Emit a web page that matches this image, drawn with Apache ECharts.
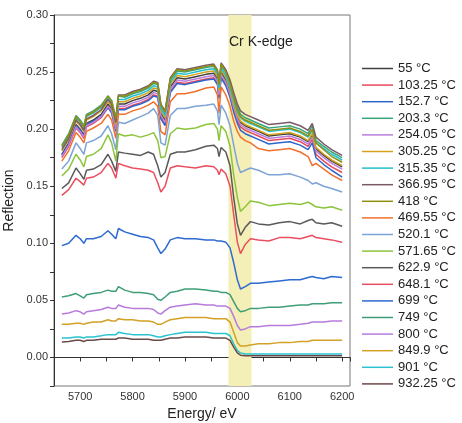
<!DOCTYPE html>
<html>
<head>
<meta charset="utf-8">
<script src="https://cdn.jsdelivr.net/npm/echarts@6/dist/echarts.min.js"></script>
<style>
html,body{margin:0;padding:0;background:#fff;}
#chart{width:462px;height:423px;}
</style>
</head>
<body>
<div id="chart"></div>
<script>
// Energy grid (eV)
const energy = [5665,5678,5692,5700,5707,5712,5725,5740,5753,5760,
5768,5773,5785,5800,5815,5830,5840,5848,5854,5862,
5872,5885,5900,5920,5940,5955,5962,5965,5969,5978,
5986,5993,6000,6006,6015,6025,6040,6060,6080,6100,
6120,6135,6143,6150,6165,6180,6200];

const edgeBand = [5983, 6027];
const edgeLabel = 'Cr K-edge';

const temps = ['55 °C','103.25 °C','152.7 °C','203.3 °C','254.05 °C','305.25 °C','315.35 °C','366.95 °C','418 °C','469.55 °C','520.1 °C','571.65 °C','622.9 °C','648.1 °C','699 °C','749 °C','800 °C','849.9 °C','901 °C','932.25 °C'];

const black55 = [
0.178,0.188,0.204,0.200,0.195,0.205,0.208,0.213,0.222,0.218,
0.202,0.222,0.222,0.225,0.227,0.230,0.234,0.233,0.214,0.208,
0.237,0.245,0.244,0.246,0.248,0.249,0.244,0.232,0.250,0.243,
0.233,0.221,0.211,0.206,0.203,0.201,0.198,0.194,0.195,0.196,
0.193,0.189,0.195,0.183,0.177,0.172,0.167];
const red103 = [
0.175,0.185,0.201,0.197,0.192,0.202,0.205,0.210,0.219,0.215,
0.199,0.218,0.218,0.221,0.223,0.226,0.230,0.229,0.210,0.204,
0.233,0.241,0.240,0.242,0.244,0.245,0.240,0.228,0.246,0.239,
0.229,0.217,0.207,0.202,0.199,0.197,0.194,0.190,0.191,0.192,
0.189,0.185,0.191,0.178,0.172,0.167,0.162];
const blue152 = [
0.177,0.187,0.203,0.199,0.194,0.204,0.207,0.211,0.219,0.214,
0.198,0.217,0.217,0.220,0.222,0.225,0.229,0.228,0.209,0.203,
0.232,0.240,0.239,0.241,0.243,0.244,0.239,0.227,0.245,0.238,
0.228,0.215,0.205,0.199,0.196,0.194,0.191,0.187,0.188,0.189,
0.186,0.182,0.188,0.175,0.169,0.164,0.158];
const teal203 = [
0.186,0.196,0.212,0.208,0.203,0.213,0.216,0.221,0.229,0.225,
0.210,0.229,0.228,0.231,0.233,0.236,0.240,0.239,0.220,0.214,
0.243,0.251,0.250,0.252,0.254,0.255,0.250,0.238,0.256,0.250,
0.241,0.229,0.219,0.213,0.210,0.208,0.205,0.201,0.202,0.203,
0.200,0.196,0.203,0.190,0.185,0.180,0.175];
const purple254 = [
0.176,0.186,0.202,0.198,0.193,0.203,0.206,0.211,0.220,0.216,
0.200,0.220,0.220,0.223,0.225,0.228,0.232,0.231,0.212,0.206,
0.235,0.243,0.242,0.244,0.246,0.247,0.242,0.230,0.248,0.241,
0.231,0.219,0.209,0.204,0.201,0.199,0.196,0.192,0.193,0.194,
0.191,0.187,0.193,0.181,0.175,0.170,0.165];
const gold305 = [
0.181,0.191,0.207,0.203,0.198,0.208,0.211,0.216,0.224,0.220,
0.204,0.224,0.224,0.227,0.229,0.232,0.236,0.235,0.216,0.210,
0.239,0.247,0.246,0.248,0.250,0.251,0.246,0.234,0.252,0.245,
0.235,0.222,0.212,0.207,0.204,0.202,0.199,0.195,0.196,0.197,
0.194,0.190,0.196,0.184,0.178,0.173,0.168];
const cyan315 = [
0.184,0.194,0.210,0.206,0.201,0.211,0.214,0.219,0.227,0.223,
0.207,0.226,0.226,0.229,0.231,0.234,0.238,0.237,0.218,0.212,
0.241,0.249,0.248,0.250,0.252,0.253,0.248,0.236,0.254,0.247,
0.237,0.225,0.215,0.210,0.207,0.205,0.202,0.198,0.199,0.200,
0.197,0.193,0.199,0.188,0.183,0.178,0.173];
const brown366 = [
0.182,0.192,0.208,0.204,0.199,0.209,0.212,0.217,0.226,0.222,
0.206,0.230,0.230,0.233,0.235,0.238,0.242,0.241,0.222,0.216,
0.245,0.253,0.252,0.254,0.256,0.257,0.252,0.240,0.258,0.252,
0.243,0.232,0.222,0.216,0.213,0.211,0.208,0.204,0.205,0.206,
0.203,0.199,0.205,0.193,0.187,0.182,0.177];
const olive418 = [
0.185,0.195,0.211,0.207,0.202,0.212,0.215,0.220,0.229,0.225,
0.209,0.229,0.229,0.232,0.234,0.237,0.241,0.240,0.221,0.215,
0.244,0.252,0.251,0.253,0.255,0.256,0.251,0.239,0.257,0.250,
0.240,0.228,0.217,0.211,0.208,0.206,0.203,0.199,0.200,0.201,
0.198,0.194,0.200,0.188,0.182,0.176,0.171];
const orange469 = [
0.172,0.181,0.197,0.193,0.188,0.198,0.201,0.205,0.213,0.208,
0.192,0.213,0.213,0.216,0.218,0.221,0.224,0.220,0.198,0.195,
0.224,0.231,0.231,0.233,0.236,0.237,0.230,0.214,0.237,0.230,
0.220,0.207,0.198,0.193,0.190,0.188,0.183,0.181,0.182,0.183,
0.180,0.176,0.168,0.170,0.165,0.160,0.155];
const lightblue520 = [
0.165,0.172,0.188,0.183,0.178,0.188,0.190,0.194,0.203,0.196,
0.182,0.206,0.205,0.208,0.211,0.214,0.218,0.212,0.188,0.186,
0.212,0.218,0.218,0.220,0.221,0.222,0.216,0.204,0.221,0.214,
0.203,0.186,0.170,0.162,0.164,0.166,0.164,0.160,0.160,0.161,
0.158,0.155,0.152,0.153,0.150,0.148,0.145];
const lightgreen571 = [
0.159,0.165,0.178,0.173,0.167,0.176,0.178,0.183,0.195,0.188,
0.172,0.196,0.194,0.195,0.193,0.195,0.197,0.190,0.175,0.176,
0.196,0.201,0.200,0.201,0.204,0.205,0.200,0.190,0.203,0.198,
0.185,0.160,0.140,0.128,0.132,0.137,0.136,0.133,0.134,0.135,
0.134,0.136,0.134,0.132,0.131,0.132,0.129];
const gray622 = [
0.148,0.153,0.166,0.161,0.156,0.164,0.165,0.169,0.178,0.172,
0.163,0.180,0.179,0.178,0.177,0.180,0.178,0.168,0.158,0.162,
0.178,0.180,0.180,0.182,0.185,0.186,0.183,0.176,0.184,0.180,
0.168,0.140,0.117,0.107,0.114,0.119,0.117,0.116,0.118,0.119,
0.117,0.120,0.121,0.118,0.117,0.118,0.115];
const red648 = [
0.142,0.147,0.157,0.154,0.151,0.157,0.158,0.162,0.170,0.166,
0.157,0.170,0.168,0.166,0.165,0.164,0.162,0.153,0.145,0.150,
0.166,0.168,0.167,0.166,0.168,0.167,0.164,0.160,0.165,0.161,
0.150,0.125,0.101,0.091,0.099,0.104,0.103,0.102,0.105,0.105,
0.104,0.106,0.107,0.105,0.104,0.103,0.101];
const blue699 = [
0.098,0.100,0.107,0.104,0.100,0.104,0.104,0.106,0.111,0.108,
0.104,0.113,0.110,0.108,0.106,0.105,0.103,0.096,0.091,0.095,
0.103,0.105,0.104,0.104,0.103,0.103,0.102,0.101,0.102,0.101,
0.096,0.083,0.068,0.060,0.062,0.065,0.065,0.066,0.067,0.068,
0.068,0.070,0.071,0.070,0.069,0.071,0.070];
const green749 = [
0.053,0.054,0.056,0.054,0.052,0.055,0.056,0.057,0.059,0.058,
0.058,0.062,0.059,0.057,0.057,0.056,0.055,0.051,0.050,0.053,
0.057,0.058,0.060,0.060,0.059,0.058,0.058,0.057,0.057,0.057,
0.055,0.049,0.043,0.040,0.041,0.043,0.043,0.044,0.044,0.045,
0.046,0.046,0.047,0.047,0.047,0.048,0.048];
const purple800 = [
0.038,0.039,0.041,0.040,0.038,0.040,0.041,0.042,0.044,0.043,
0.043,0.046,0.044,0.043,0.043,0.043,0.042,0.039,0.038,0.041,
0.044,0.045,0.046,0.047,0.046,0.046,0.045,0.045,0.045,0.045,
0.043,0.036,0.028,0.024,0.025,0.027,0.027,0.028,0.028,0.028,
0.029,0.030,0.031,0.031,0.031,0.032,0.032];
const gold849 = [
0.029,0.029,0.030,0.030,0.029,0.030,0.031,0.031,0.033,0.032,
0.032,0.034,0.033,0.033,0.032,0.032,0.031,0.029,0.029,0.031,
0.033,0.034,0.035,0.035,0.035,0.034,0.034,0.034,0.034,0.034,
0.031,0.022,0.013,0.010,0.010,0.011,0.012,0.012,0.013,0.013,
0.014,0.014,0.015,0.015,0.015,0.015,0.015];
const cyan901 = [
0.017,0.017,0.018,0.018,0.017,0.018,0.018,0.019,0.020,0.020,
0.020,0.022,0.021,0.020,0.020,0.020,0.019,0.018,0.018,0.019,
0.020,0.021,0.022,0.022,0.022,0.021,0.021,0.021,0.021,0.021,
0.019,0.012,0.006,0.004,0.003,0.003,0.003,0.003,0.003,0.003,
0.003,0.003,0.003,0.003,0.003,0.003,0.003];
const brown932 = [
0.0135,0.014,0.015,0.015,0.014,0.015,0.015,0.016,0.016,0.016,
0.016,0.017,0.017,0.016,0.016,0.016,0.015,0.015,0.015,0.016,
0.017,0.017,0.018,0.018,0.018,0.017,0.017,0.017,0.017,0.017,
0.015,0.009,0.004,0.002,0.0015,0.0015,0.0015,0.0015,0.0015,0.0015,
0.0015,0.0015,0.0015,0.0015,0.0015,0.0015,0.0015];

const values = [black55,red103,blue152,teal203,purple254,gold305,cyan315,brown366,olive418,orange469,
  lightblue520,lightgreen571,gray622,red648,blue699,green749,purple800,gold849,cyan901,brown932];

const colors = ['#404040','#e8485c','#2f66c9','#3aa57b','#b87fdc','#d4a21c','#22c0cf','#7a5a66','#8f9012','#f0702c',
  '#7ea3d6','#8cc43c','#5a5a5a','#ea4f60','#2d6ad2','#3e9e77','#b67bdc','#d2a126','#2bc2d0','#6b4a4a'];

const chart = echarts.init(document.getElementById('chart'), null, {renderer:'canvas'});
const font = '"Liberation Sans", Arial, sans-serif';

const series = temps.map((name, i) => ({
  name: name,
  type: 'line',
  data: energy.map((e, j) => [e, values[i][j]]),
  symbol: 'none',
  showSymbol: false,
  z: 3,
  lineStyle: {width: 1.5, color: colors[i]},
  itemStyle: {color: colors[i]}
}));
series.unshift({
  type: 'line',
  data: [],
  z: 1,
  markArea: {
    silent: true,
    itemStyle: {color: '#f4efb6'},
    data: [[{xAxis: edgeBand[0]}, {xAxis: edgeBand[1]}]]
  }
});

chart.setOption({
  animation: false,
  backgroundColor: '#fff',
  textStyle: {fontFamily: font},
  grid: {left: 54, right: 112, top: 15, bottom: 37, containLabel: false, outerBoundsMode: 'none',
    show: true, borderColor: '#777', borderWidth: 1, backgroundColor: 'transparent'},
  xAxis: {
    type: 'value', min: 5650, max: 6215, interval: 50,
    name: 'Energy/ eV', nameLocation: 'middle', nameGap: 18,
    nameTextStyle: {fontSize: 14, color: '#222', fontFamily: font},
    axisLine: {show: true, lineStyle: {color: '#333'}},
    axisTick: {show: true, inside: false, length: 4, lineStyle: {color: '#333'}},
    axisLabel: {fontSize: 11, color: '#333', margin: 5, fontFamily: font,
      formatter: v => (Math.round(v) % 100 === 0 ? String(Math.round(v)) : '')},
    splitLine: {show: false}
  },
  yAxis: {
    type: 'value', min: -0.025, max: 0.30, interval: 0.025,
    name: 'Reflection', nameLocation: 'middle', nameGap: 29,
    nameTextStyle: {fontSize: 14, color: '#222', fontFamily: font},
    axisLine: {show: true, lineStyle: {color: '#333'}},
    axisTick: {show: true, inside: false, length: 4, lineStyle: {color: '#333'}},
    axisLabel: {fontSize: 11, color: '#333', margin: 6, fontFamily: font,
      formatter: v => { const k = Math.round(v * 1000); return k % 50 === 0 ? (k / 1000).toFixed(2) : ''; }},
    splitLine: {show: false}
  },
  legend: {
    orient: 'vertical', left: 362, top: 62, padding: 0,
    icon: 'rect',
    itemWidth: 31, itemHeight: 1.5, itemGap: 3.6,
    data: temps,
    textStyle: {fontSize: 13, color: '#222', fontFamily: font}
  },
  graphic: [{
    type: 'text', left: 229, top: 35, z: 100,
    style: {text: edgeLabel, fontSize: 14, fill: '#222', fontFamily: font}
  }],
  series: series
});
</script>
</body>
</html>
